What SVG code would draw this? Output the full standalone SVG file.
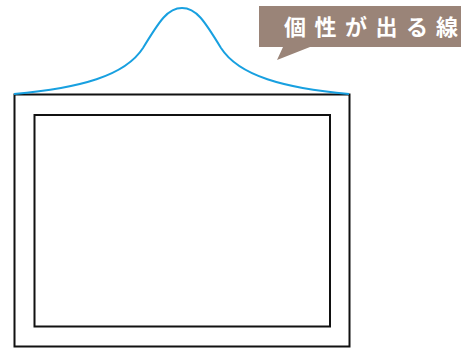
<svg xmlns="http://www.w3.org/2000/svg" width="461" height="350" viewBox="0 0 461 350">
<style>
.frame{fill:none;stroke:#111;stroke-width:2}
.curve{fill:none;stroke:#18a0e0;stroke-width:2}
.label{font-family:"Noto Sans CJK JP","Noto Sans",sans-serif;font-size:22px;font-weight:bold;fill:#fff}
</style>
<rect width="461" height="350" fill="#fff"/>
<g id="outer-frame"><rect class="frame" x="14.5" y="94.5" width="335" height="252"/></g>
<g id="inner-frame"><rect class="frame" x="34.5" y="115" width="295.5" height="211.5"/></g>
<g id="connectors">
<path class="curve" d="M14,94 C80,88 125,76 143,48 C160,20 168,8 182,8 C196,8 204,20 221,48 C239,76 284,88 349,94"/>
</g>
<g id="callout">
<path d="M259,6 H461 V47 H310 L277,60 L283,47 H259 Z" fill="#9a8478"/>
<text class="label" x="284 314.5 345 375.5 406 436" y="35">個性が出る線</text>
</g>
</svg>
